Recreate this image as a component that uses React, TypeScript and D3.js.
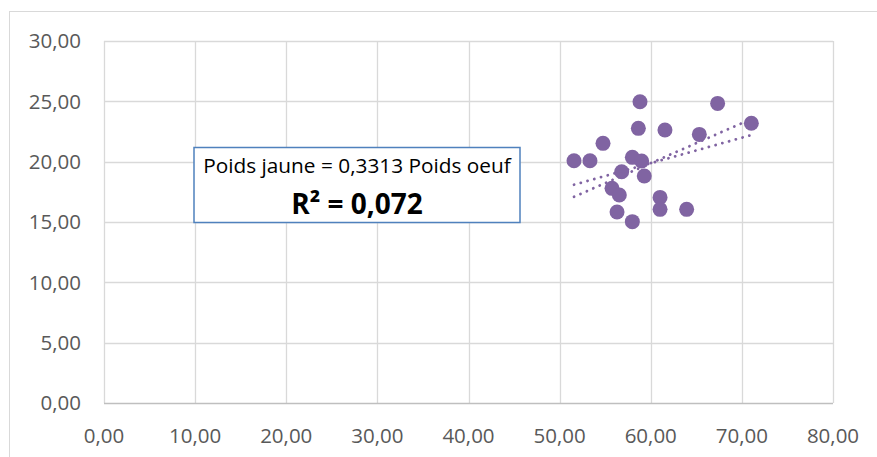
import React, { useEffect, useRef } from "react";
import * as d3 from "d3";

// poids oeuf (x) / poids jaune (y)
const poidsOeuf = [58.82, 67.34, 71.04, 58.64, 61.56, 65.33, 54.76, 51.58, 53.33, 57.98,
  59.0, 56.81, 59.29, 55.75, 56.55, 61.02, 61.02, 63.94, 56.3, 57.98];
const poidsJaune = [24.97, 24.83, 23.18, 22.76, 22.62, 22.26, 21.52, 20.08, 20.08, 20.36,
  20.05, 19.17, 18.81, 17.79, 17.24, 17.04, 16.05, 16.05, 15.83, 15.03];

const xTicks = [0, 10, 20, 30, 40, 50, 60, 70, 80];
const yTicks = [0, 5, 10, 15, 20, 25, 30];

// trendlines: [intercept, slope]
const trendOrigin = [0, 0.3313];
const trendLinear = [7.18, 0.2115];

const equationLabel = "Poids jaune = 0,3313 Poids oeuf";
const r2Label = "R² = 0,072";

const fmt = (v: number) => v.toFixed(2).replace(".", ",");

const App = () => {
  const svgRef = useRef<SVGSVGElement>(null);

  useEffect(() => {
    const width = 877, height = 457;
    const left = 104, right = 833, top = 41, bottom = 403;
    const purple = "#8064A2";
    const font = "'Open Sans', sans-serif";

    const svg = d3.select(svgRef.current).attr("width", width).attr("height", height);
    svg.selectAll("*").remove();

    const x = d3.scaleLinear().domain([0, 80]).range([left, right]);
    const y = d3.scaleLinear().domain([0, 30]).range([bottom, top]);

    // outer chart frame (cut by the window)
    svg.append("rect")
      .attr("x", 9.5).attr("y", 11.5)
      .attr("width", width + 10).attr("height", height + 10)
      .attr("fill", "#fff").attr("stroke", "#d9d9d9");

    // grid
    svg.append("g").selectAll("line").data(xTicks).join("line")
      .attr("x1", d => Math.round(x(d)) + 0.5).attr("x2", d => Math.round(x(d)) + 0.5)
      .attr("y1", top).attr("y2", bottom)
      .attr("stroke", "#d9d9d9").attr("stroke-width", 1.3);
    svg.append("g").selectAll("line").data(yTicks).join("line")
      .attr("y1", d => Math.round(y(d)) + 0.5).attr("y2", d => Math.round(y(d)) + 0.5)
      .attr("x1", left).attr("x2", right)
      .attr("stroke", d => (d === 0 ? "#bfbfbf" : "#d9d9d9")).attr("stroke-width", 1.3);

    // tick labels
    svg.append("g").selectAll("text").data(yTicks).join("text")
      .attr("x", 81).attr("y", d => y(d))
      .attr("dy", "0.36em")
      .attr("text-anchor", "end")
      .attr("font-family", font).attr("font-size", 20.5)
      .attr("fill", "#595959")
      .text(d => fmt(d));
    svg.append("g").selectAll("text").data(xTicks).join("text")
      .attr("x", d => x(d)).attr("y", 443)
      .attr("text-anchor", "middle")
      .attr("font-family", font).attr("font-size", 20.5)
      .attr("fill", "#595959")
      .text(d => fmt(d));

    // points
    svg.append("g").selectAll("circle").data(poidsOeuf).join("circle")
      .attr("cx", d => x(d)).attr("cy", (_, i) => y(poidsJaune[i]))
      .attr("r", 7.5).attr("fill", purple);

    // trendlines
    const [xmin, xmax] = d3.extent(poidsOeuf) as [number, number];
    const line = d3.line<number>().x(d => x(d));
    [trendOrigin, trendLinear].forEach(([a, b]) => {
      svg.append("path")
        .attr("d", line.y(d => y(a + b * d))([xmin, xmax]))
        .attr("fill", "none").attr("stroke", purple)
        .attr("stroke-width", 2.8).attr("stroke-linecap", "round")
        .attr("stroke-dasharray", "0.1 6.9");
    });

    // equation box
    svg.append("rect")
      .attr("x", 194).attr("y", 147.5).attr("width", 326).attr("height", 75)
      .attr("fill", "#fff").attr("stroke", "#4F81BD").attr("stroke-width", 1.5);
    svg.append("text")
      .attr("x", 357).attr("y", 173)
      .attr("text-anchor", "middle")
      .attr("font-family", font).attr("font-size", 20.8)
      .attr("fill", "#000")
      .text(equationLabel);
    svg.append("text")
      .attr("x", 357).attr("y", 214)
      .attr("text-anchor", "middle")
      .attr("font-family", font).attr("font-size", 28).attr("font-weight", "bold")
      .attr("fill", "#000")
      .text(r2Label);
  }, []);

  return <svg ref={svgRef} style={{ position: "absolute", left: 0, top: 0 }}></svg>;
};

export default App;
